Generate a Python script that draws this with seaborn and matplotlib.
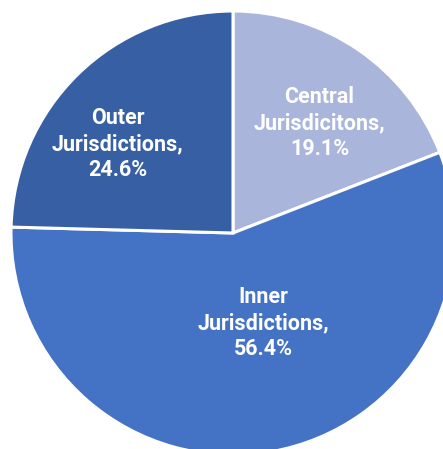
import matplotlib
matplotlib.use("Agg")
import matplotlib.pyplot as plt
import seaborn as sns

labels = ["Central\nJurisdicitons,", "Inner\nJurisdictions,", "Outer\nJurisdictions,"]
shares = [19.1, 56.4, 24.6]
colors = ["#A9B5DA", "#4472C4", "#375FA3"]

sns.set_theme(style="white")
plt.rcParams["font.family"] = ["Roboto", "DejaVu Sans"]

fig = plt.figure(figsize=(4.43, 4.49), dpi=100)
ax = fig.add_axes([0, 0, 1, 1])
wedges, _ = ax.pie(shares, colors=colors, startangle=90, counterclock=False,
                   wedgeprops=dict(edgecolor="white", linewidth=2.2))

# label spots, in data units of the unit pie
spots = [(0.39, 0.495), (0.135, -0.405), (-0.52, 0.40)]
for lab, v, (x, y) in zip(labels, shares, spots):
    ax.text(x, y, f"{lab}\n{v}%", ha="center", va="center", color="white",
            fontsize=15.5, fontweight="semibold", linespacing=1.25)

# pie is cropped at the right and bottom, as in the source
ax.set_xlim(-233 / 222, (443 - 233) / 222)
ax.set_ylim(-(449 - 233) / 222, 233 / 222)
ax.set_aspect("auto")
ax.axis("off")
fig.savefig("out.png", dpi=100)
